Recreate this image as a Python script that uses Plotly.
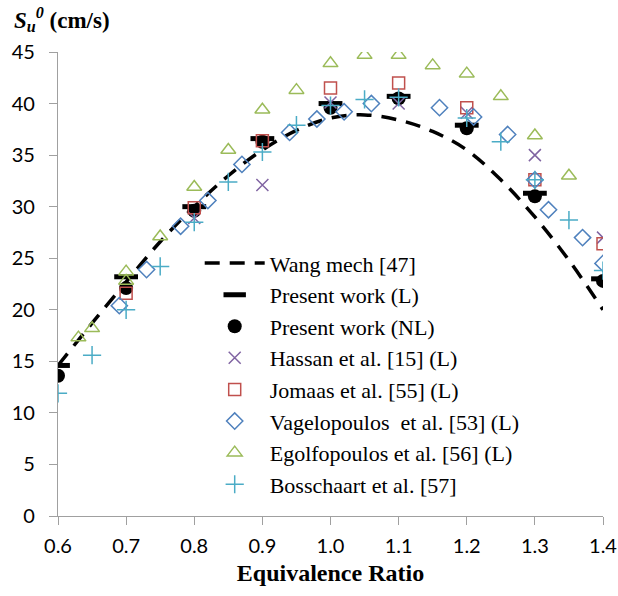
import plotly.graph_objects as go

# Wang mechanism prediction (dashed curve)
wang_phi = [0.6, 0.65, 0.7, 0.75, 0.8, 0.85, 0.9, 0.95, 1.0, 1.05, 1.1, 1.15, 1.2, 1.25, 1.3, 1.35, 1.4]
wang_su = [14.6, 18.7, 22.7, 26.6, 30.0, 33.0, 35.5, 37.4, 38.6, 38.9, 38.4, 37.3, 35.5, 32.6, 29.0, 24.8, 20.0]

# Present work
pw_phi = [0.6, 0.7, 0.8, 0.9, 1.0, 1.1, 1.2, 1.3, 1.4]
pw_lin = [14.6, 23.2, 30.0, 36.6, 40.0, 40.7, 37.9, 31.3, 23.0]
pw_nonlin = [13.6, 22.1, 29.6, 36.3, 39.6, 40.5, 37.6, 31.0, 22.8]

# Hassan et al. [15]
has_phi = [0.8, 0.9, 1.0, 1.1, 1.2, 1.3, 1.4]
has_su = [28.9, 32.1, 40.1, 40.0, 39.1, 35.0, 27.0]

# Jomaas et al. [55]
jom_phi = [0.7, 0.8, 0.9, 1.0, 1.1, 1.2, 1.3, 1.4]
jom_su = [21.6, 29.9, 36.4, 41.5, 42.0, 39.6, 32.6, 26.4]

# Vagelopoulos et al. [53]
vag_phi = [0.69, 0.73, 0.78, 0.82, 0.87, 0.94, 0.98, 1.02, 1.06, 1.16, 1.21, 1.26, 1.30, 1.32, 1.37, 1.40]
vag_su = [20.4, 23.9, 28.1, 30.6, 34.1, 37.2, 38.5, 39.2, 40.0, 39.6, 38.7, 37.0, 32.6, 29.7, 27.0, 24.5]

# Egolfopoulos et al. [56]
ego_phi = [0.63, 0.65, 0.70, 0.70, 0.75, 0.80, 0.85, 0.90, 0.95, 1.00, 1.05, 1.10, 1.15, 1.20, 1.25, 1.30, 1.35]
ego_su = [17.3, 18.2, 23.7, 22.8, 27.1, 31.9, 35.5, 39.4, 41.3, 43.9, 44.7, 44.7, 43.7, 42.9, 40.7, 36.9, 33.0]

# Bosschaart et al. [57]
bos_phi = [0.6, 0.65, 0.7, 0.75, 0.8, 0.85, 0.9, 0.95, 1.0, 1.05, 1.1, 1.2, 1.25, 1.3, 1.35, 1.4]
bos_su = [11.9, 15.6, 20.0, 24.2, 28.5, 32.4, 35.3, 37.9, 39.8, 40.4, 40.6, 38.6, 36.3, 32.6, 28.7, 23.8]

fig = go.Figure()

fig.add_trace(go.Scatter(
    x=wang_phi, y=wang_su, mode="lines", name="Wang mech [47]",
    line=dict(color="black", width=3.5, dash="15px,10px", shape="spline"),
))
fig.add_trace(go.Scatter(
    x=pw_phi, y=pw_lin, mode="markers", name="Present work (L)",
    marker=dict(symbol="line-ew", size=17, color="black",
                line=dict(color="black", width=5)),
))
fig.add_trace(go.Scatter(
    x=pw_phi, y=pw_nonlin, mode="markers", name="Present work (NL)",
    marker=dict(symbol="circle", size=14, color="black"),
))
fig.add_trace(go.Scatter(
    x=has_phi, y=has_su, mode="markers", name="Hassan et al. [15] (L)",
    marker=dict(symbol="x-thin", size=12, color="#8064a2",
                line=dict(color="#8064a2", width=1.5)),
))
fig.add_trace(go.Scatter(
    x=jom_phi, y=jom_su, mode="markers", name="Jomaas et al. [55] (L)",
    marker=dict(symbol="square-open", size=12, color="#c0504d",
                line=dict(width=1.5)),
))
fig.add_trace(go.Scatter(
    x=vag_phi, y=vag_su, mode="markers", name="Vagelopoulos  et al. [53] (L)",
    marker=dict(symbol="diamond-open", size=12.5, color="#4f81bd",
                line=dict(width=1.5)),
))
fig.add_trace(go.Scatter(
    x=ego_phi, y=ego_su, mode="markers", name="Egolfopoulos et al. [56] (L)",
    marker=dict(symbol="triangle-up-open", size=13, color="#9bbb59",
                line=dict(width=1.5)),
))
fig.add_trace(go.Scatter(
    x=bos_phi, y=bos_su, mode="markers", name="Bosschaart et al. [57]",
    marker=dict(symbol="cross-thin", size=13, color="#4bacc6",
                line=dict(color="#4bacc6", width=1.5)),
))

axis_color = "#a0a0a0"
tick_font = dict(family="Lato, Open Sans, sans-serif", size=20, color="black")

fig.update_layout(
    width=618, height=596,
    margin=dict(l=58, r=15, t=52, b=80, autoexpand=False),
    paper_bgcolor="white", plot_bgcolor="white",
    showlegend=True,
    legend=dict(
        x=0.26, y=0.59, xanchor="left", yanchor="top",
        bgcolor="rgba(0,0,0,0)",
        font=dict(family="Liberation Serif, Times New Roman, serif", size=22, color="black"),
        itemwidth=60, tracegroupgap=0,
    ),
    xaxis=dict(
        range=[0.6, 1.4], dtick=0.1, tick0=0.6, tickformat=".1f",
        showgrid=False, zeroline=False, automargin=False,
        showline=True, linecolor=axis_color, linewidth=1.3,
        ticks="outside", ticklen=8, tickcolor=axis_color, tickwidth=1.3,
        tickfont=tick_font, ticklabelstandoff=4,
        title=dict(text="<b>Equivalence Ratio</b>", standoff=8,
                   font=dict(family="Liberation Serif, Times New Roman, serif", size=24, color="black")),
    ),
    yaxis=dict(
        range=[0, 45], dtick=5, tick0=0,
        showgrid=False, zeroline=False, automargin=False,
        showline=True, linecolor=axis_color, linewidth=1.3,
        ticks="outside", ticklen=8, tickcolor=axis_color, tickwidth=1.3,
        tickfont=tick_font, ticklabelstandoff=10,
    ),
    annotations=[dict(
        xref="paper", yref="paper", x=-0.085, y=1.07,
        xanchor="left", yanchor="middle", showarrow=False,
        text="<b><i>S</i></b><sub><b><i>u</i></b></sub><sup><b><i>0</i></b></sup><b> (cm/s)</b>",
        font=dict(family="Liberation Serif, Times New Roman, serif", size=23, color="black"),
    )],
)

fig.write_html("out.html")
